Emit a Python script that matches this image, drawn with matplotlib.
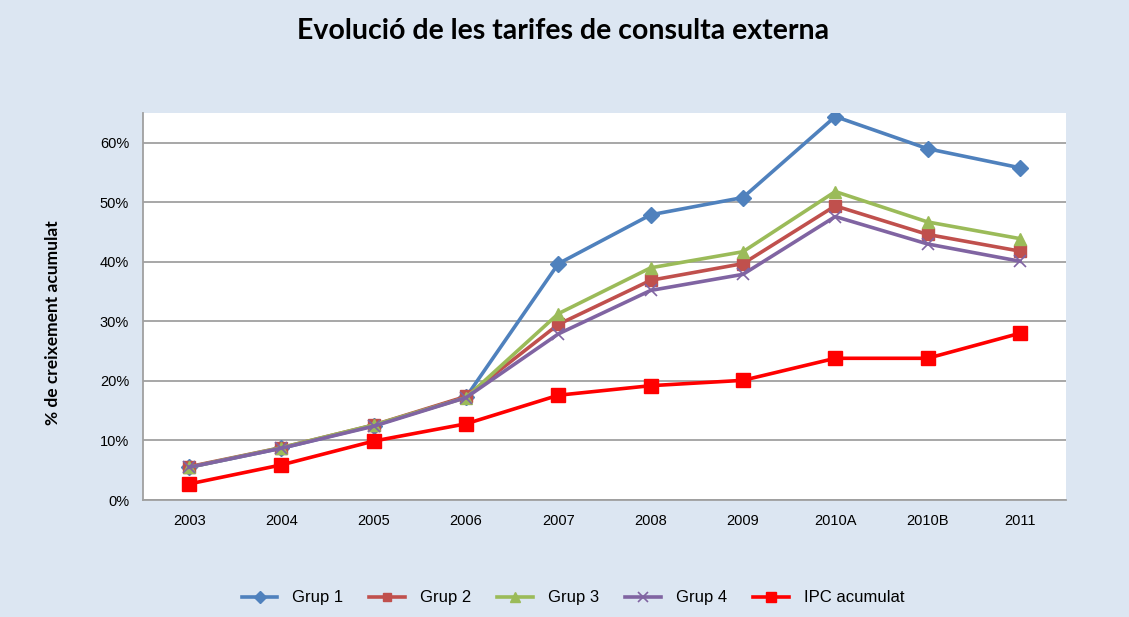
import numpy as np
import matplotlib
matplotlib.use("Agg")
import matplotlib.pyplot as plt
from matplotlib.ticker import PercentFormatter

# Données
anys = ["2003", "2004", "2005", "2006", "2007", "2008", "2009", "2010A", "2010B", "2011"]
grup1 = [5.5, 8.7, 12.5, 17.3, 39.7, 47.9, 50.8, 64.4, 59.0, 55.8]
grup2 = [5.6, 8.8, 12.6, 17.4, 29.5, 36.9, 39.7, 49.4, 44.6, 41.8]
grup3 = [5.5, 8.8, 12.6, 17.2, 31.3, 39.0, 41.7, 51.8, 46.7, 43.9]
grup4 = [5.5, 8.7, 12.4, 17.2, 27.9, 35.2, 37.9, 47.6, 43.0, 40.1]
ipc = [2.7, 5.9, 9.9, 12.8, 17.6, 19.2, 20.1, 23.8, 23.8, 28.0]

bg = "#DCE6F2"
fig = plt.figure(figsize=(11.29, 6.17), dpi=100, facecolor=bg)
ax = fig.add_axes([0.1267, 0.1896, 0.8175, 0.6273])
ax.set_facecolor("white")

x = np.arange(len(anys))
series = [
    (grup1, "Grup 1", "#4F81BD", "D", 8, dict()),
    (grup2, "Grup 2", "#C0504D", "s", 8, dict()),
    (grup3, "Grup 3", "#9BBB59", "^", 9, dict()),
    (grup4, "Grup 4", "#8064A2", "x", 9, dict(markeredgewidth=1.2)),
    (ipc, "IPC acumulat", "#FF0000", "s", 10, dict()),
]
for vals, nom, col, mk, ms, extra in series:
    ax.plot(x, vals, color=col, lw=2.6, marker=mk, markersize=ms,
            markerfacecolor=col, markeredgecolor=col, label=nom, **extra)

ax.set_xlim(-0.5, len(anys) - 0.5)
ax.set_ylim(0, 65)
ax.set_yticks(np.arange(0, 61, 10))
ax.yaxis.set_major_formatter(PercentFormatter(decimals=0))
ax.set_xticks(x)
ax.set_xticklabels(anys)
ax.tick_params(axis="both", length=0, labelsize=10.5, pad=10)
for lab in ax.get_xticklabels() + ax.get_yticklabels():
    lab.set_family("Liberation Sans")
ax.grid(axis="y", color="#A0A0A0", lw=1.3)
ax.set_axisbelow(True)
for s in ["top", "right"]:
    ax.spines[s].set_visible(False)
for s in ["left", "bottom"]:
    ax.spines[s].set_color("#A0A0A0")
    ax.spines[s].set_linewidth(1.3)

fig.text(0.499, 0.950, "Evolució de les tarifes de consulta externa",
         ha="center", va="center", fontsize=20.5, fontweight="bold", family="Lato")
fig.text(0.047, 0.4765, "% de creixement acumulat", rotation=90,
         ha="center", va="center", fontsize=12.5, fontweight="bold", family="Lato")

fig.legend(loc="center", bbox_to_anchor=(0.5075, 0.031), ncol=5, frameon=False,
           prop={"family": "Liberation Sans", "size": 12}, handlelength=2.15,
           handletextpad=0.9, columnspacing=1.55, markerscale=0.75)

fig.savefig("out.png", dpi=100, facecolor=bg)
